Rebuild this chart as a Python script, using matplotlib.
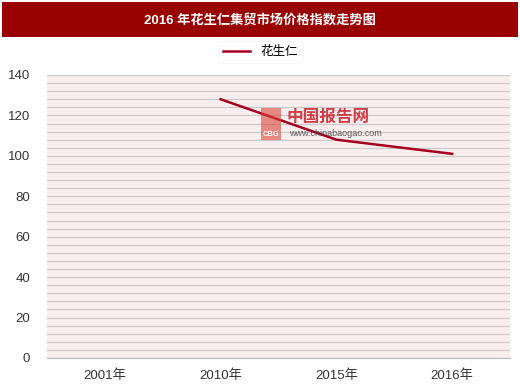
import numpy as np
import matplotlib.pyplot as plt
from matplotlib.patches import Rectangle

plt.rcParams['font.family'] = ['Liberation Sans', 'Noto Sans CJK SC', 'DejaVu Sans']

# data
years = ['2001年', '2010年', '2015年', '2016年']
values = [np.nan, 128, 108, 101]
series_name = '花生仁'
title = '2016 年花生仁集贸市场价格指数走势图'

fig = plt.figure(figsize=(5.2, 3.86), dpi=100)

# title bar
fig.patches.append(Rectangle((2/520, 1 - 37/386), 516/520, 35/386,
                             transform=fig.transFigure, facecolor='#990000',
                             edgecolor='none'))
fig.text(0.5, 1 - 20/386, title, color='white', fontsize=9.5, fontweight='bold',
         ha='center', va='center')

ax = fig.add_axes([47/520, 1 - 358/386, 463/520, 283/386])
ax.set_facecolor('#f9eeee')
x = np.arange(len(years))
ax.plot(x, values, color='#a50021', lw=1.8, label=series_name)

ax.set_xlim(-0.5, len(years) - 0.5)
ax.set_ylim(0, 140)
ax.set_yticks(np.arange(0, 141, 20))
ax.set_yticks(np.arange(0, 141, 4), minor=True)
ax.set_xticks(x)
ax.set_xticklabels(years)
ax.grid(True, axis='y', which='both', color='#cdc9c9', lw=0.9)
ax.set_axisbelow(True)
ax.tick_params(axis='both', which='both', length=0, labelsize=9.5, colors='#333333')
ax.tick_params(axis='y', pad=12)
ax.tick_params(axis='x', pad=8)
for s in ['top', 'right', 'left']:
    ax.spines[s].set_visible(False)
ax.spines['bottom'].set_color('#bbbbbb')

leg = ax.legend(loc='center', bbox_to_anchor=(0.5, 1 - 52/386), bbox_transform=fig.transFigure,
                frameon=True, fontsize=9, handlelength=2.2, borderpad=0.4)
leg.get_frame().set_edgecolor('#eeeeee')
leg.get_frame().set_linewidth(0.5)

# watermark
fig.text(287/520, 1 - 117/386, '中国报告网', color='#c8202a', fontsize=12,
         fontweight='bold', ha='left', va='center', alpha=0.85)
fig.text(289/520, 1 - 134/386, 'www.chinabaogao.com', color='#333333', fontsize=6.5,
         ha='left', va='center', alpha=0.8)
fig.patches.append(Rectangle((261/520, 1 - 140/386), 20/520, 32/386,
                             transform=fig.transFigure, facecolor='#d9463a',
                             edgecolor='none', alpha=0.6))
fig.text(271/520, 1 - 134/386, 'CBG', color='white', fontsize=5.5,
         fontweight='bold', ha='center', va='center')

fig.savefig('out.png', dpi=100)
